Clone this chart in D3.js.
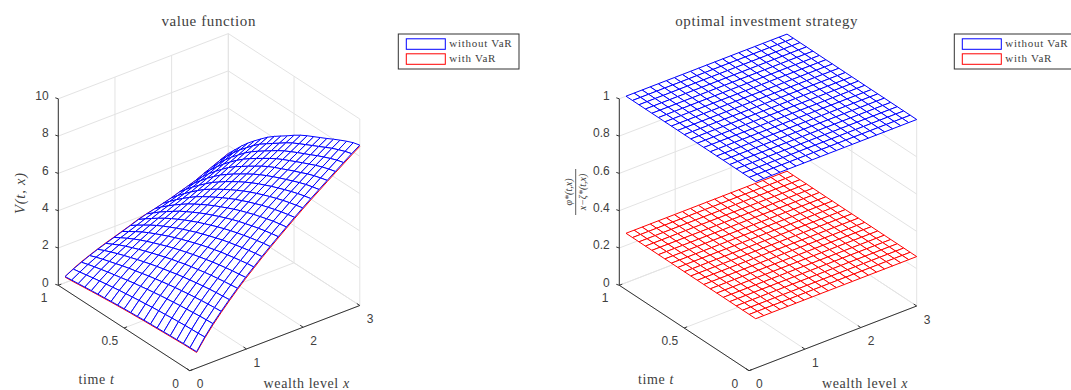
<!DOCTYPE html>
<html>
<head>
<meta charset="utf-8">
<script src="https://cdn.jsdelivr.net/npm/d3@7"></script>
<style>
  html, body { margin: 0; padding: 0; background: #fff; overflow: hidden; }
  svg { display: block; }
  .tick { font: 12px "Liberation Sans", Arial, sans-serif; fill: #404040; }
  .serif { font-family: "Liberation Serif", serif; fill: #404040; }
</style>
</head>
<body>
<svg id="chart" width="1071" height="390"></svg>
<script>
// grid of both meshes
const xGrid = [0.12, 0.264, 0.408, 0.552, 0.696, 0.84, 0.984, 1.128, 1.272, 1.416, 1.56, 1.704, 1.848, 1.992, 2.136, 2.28, 2.424, 2.568, 2.712, 2.856, 3];
const tGrid = [0, 0.05, 0.1, 0.15, 0.2, 0.25, 0.3, 0.35, 0.4, 0.45, 0.5, 0.55, 0.6, 0.65, 0.7, 0.75, 0.8, 0.85, 0.9, 0.95, 1];

// value function without VaR, one row per t in tGrid
const valueNoVar = [
  [.88, 1.50, 2.05, 2.54, 3.00, 3.44, 3.86, 4.25, 4.64, 5.01, 5.37, 5.72, 6.07, 6.41, 6.74, 7.06, 7.38, 7.69, 8.00, 8.31, 8.60],
  [.87, 1.47, 2.02, 2.51, 2.96, 3.39, 3.80, 4.20, 4.58, 4.95, 5.30, 5.65, 5.99, 6.32, 6.65, 6.97, 7.28, 7.59, 7.90, 8.20, 8.50],
  [.86, 1.45, 1.99, 2.47, 2.92, 3.34, 3.75, 4.13, 4.51, 4.87, 5.22, 5.57, 5.90, 6.23, 6.55, 6.87, 7.17, 7.47, 7.76, 8.06, 8.35],
  [.84, 1.43, 1.95, 2.43, 2.87, 3.28, 3.68, 4.06, 4.43, 4.79, 5.13, 5.47, 5.80, 6.12, 6.43, 6.74, 7.04, 7.33, 7.61, 7.91, 8.18],
  [.82, 1.40, 1.91, 2.38, 2.81, 3.22, 3.61, 3.98, 4.34, 4.69, 5.03, 5.36, 5.69, 6.00, 6.30, 6.60, 6.88, 7.17, 7.45, 7.73, 8.00],
  [.80, 1.37, 1.87, 2.33, 2.75, 3.15, 3.53, 3.90, 4.25, 4.59, 4.92, 5.25, 5.57, 5.87, 6.16, 6.45, 6.73, 7.01, 7.27, 7.55, 7.81],
  [.78, 1.33, 1.82, 2.27, 2.68, 3.07, 3.44, 3.80, 4.15, 4.48, 4.81, 5.12, 5.43, 5.73, 6.02, 6.30, 6.57, 6.84, 7.10, 7.37, 7.63],
  [.76, 1.30, 1.77, 2.21, 2.61, 2.99, 3.35, 3.70, 4.03, 4.36, 4.68, 4.99, 5.29, 5.58, 5.86, 6.14, 6.40, 6.67, 6.93, 7.19, 7.45],
  [.74, 1.26, 1.72, 2.14, 2.53, 2.90, 3.25, 3.59, 3.91, 4.23, 4.54, 4.84, 5.13, 5.42, 5.70, 5.97, 6.24, 6.50, 6.75, 7.01, 7.27],
  [.71, 1.21, 1.66, 2.07, 2.44, 2.80, 3.14, 3.47, 3.78, 4.09, 4.39, 4.68, 4.97, 5.25, 5.52, 5.79, 6.06, 6.31, 6.56, 6.82, 7.07],
  [.69, 1.17, 1.60, 1.99, 2.35, 2.70, 3.03, 3.34, 3.65, 3.94, 4.23, 4.51, 4.79, 5.06, 5.33, 5.59, 5.85, 6.10, 6.35, 6.60, 6.84],
  [.66, 1.12, 1.53, 1.91, 2.26, 2.59, 2.91, 3.21, 3.50, 3.79, 4.07, 4.34, 4.60, 4.86, 5.12, 5.37, 5.62, 5.87, 6.11, 6.35, 6.58],
  [.63, 1.07, 1.47, 1.82, 2.16, 2.47, 2.78, 3.07, 3.35, 3.62, 3.89, 4.15, 4.40, 4.65, 4.90, 5.14, 5.39, 5.64, 5.87, 6.11, 6.34],
  [.60, 1.02, 1.39, 1.73, 2.05, 2.35, 2.64, 2.92, 3.18, 3.45, 3.70, 3.95, 4.19, 4.43, 4.67, 4.91, 5.15, 5.40, 5.63, 5.86, 6.09],
  [.56, .96, 1.31, 1.64, 1.94, 2.22, 2.50, 2.76, 3.01, 3.26, 3.50, 3.74, 3.97, 4.20, 4.42, 4.66, 4.91, 5.14, 5.37, 5.61, 5.82],
  [.53, .90, 1.23, 1.54, 1.82, 2.09, 2.35, 2.59, 2.83, 3.07, 3.30, 3.52, 3.74, 3.96, 4.17, 4.40, 4.63, 4.85, 5.08, 5.30, 5.50],
  [.49, .84, 1.15, 1.43, 1.70, 1.95, 2.19, 2.42, 2.64, 2.86, 3.06, 3.27, 3.47, 3.67, 3.87, 4.09, 4.31, 4.53, 4.74, 4.96, 5.17],
  [.45, .77, 1.06, 1.32, 1.57, 1.80, 2.02, 2.23, 2.43, 2.63, 2.82, 3.01, 3.19, 3.37, 3.56, 3.77, 3.97, 4.19, 4.40, 4.62, 4.82],
  [.41, .70, .97, 1.21, 1.43, 1.64, 1.83, 2.02, 2.20, 2.39, 2.57, 2.73, 2.89, 3.05, 3.23, 3.41, 3.61, 3.82, 4.02, 4.23, 4.43],
  [.37, .63, .87, 1.09, 1.28, 1.45, 1.63, 1.80, 1.97, 2.14, 2.29, 2.44, 2.57, 2.72, 2.88, 3.04, 3.22, 3.42, 3.61, 3.81, 4.00],
  [.33, .56, .76, .95, 1.12, 1.27, 1.42, 1.57, 1.72, 1.88, 2.01, 2.12, 2.24, 2.36, 2.51, 2.65, 2.80, 3.00, 3.19, 3.38, 3.57],
];

// with VaR the mesh is hidden under the blue one, only its rim shows
const varRimT0 = [.84, 1.44, 1.98, 2.47, 2.93, 3.37, 3.79, 4.18, 4.57, 4.94, 5.30, 5.65, 6.00, 6.34, 6.67, 6.99, 7.31, 7.62, 7.93, 8.24, 8.53];
const varRimT1 = [.33, .58, .79, .97, 1.14, 1.30, 1.44, 1.59, 1.74, 1.90, 2.02, 2.12, 2.24, 2.36, 2.51, 2.65, 2.80, 3.00, 3.19, 3.38, 3.57];
const varRimX0 = [.84, .83, .82, .80, .78, .76, .74, .72, .70, .67, .65, .62, .59, .56, .52, .49, .45, .41, .37, .33, .30];

// optimal investment fraction, flat in t and x
const strategyNoVar = 1;
const strategyVar = 0.265;

const xTicks = [0, 1, 2, 3];
const tTicks = [0, 0.5, 1];
const valueTicks = [0, 2, 4, 6, 8, 10];
const strategyTicks = [0, 0.2, 0.4, 0.6, 0.8, 1];
const seriesNames = ["without VaR", "with VaR"];

const BLUE = "#0000ff", RED = "#ff0000", GRID = "#e3e3e3", AXIS = "#333";
const svg = d3.select("#chart");

function drawPanel({ front, left, right, zDomain, zTicks }) {
  const g = svg.append("g");
  // oblique projection: screen offset = x part + t part + z part
  const xPx = d3.scaleLinear([0, 3], [0, right[0] - front[0]]);
  const xPy = d3.scaleLinear([0, 3], [0, right[1] - front[1]]);
  const tPx = d3.scaleLinear([0, 1], [0, left[0] - front[0]]);
  const tPy = d3.scaleLinear([0, 1], [0, left[1] - front[1]]);
  const zPy = d3.scaleLinear(zDomain, [0, -186.5]);
  const p = (x, t, z) => [front[0] + xPx(x) + tPx(t), front[1] + xPy(x) + tPy(t) + zPy(z)];
  const zTop = zDomain[1];

  const line = (a, b, color, w = 1) =>
    g.append("line")
      .attr("x1", a[0]).attr("y1", a[1])
      .attr("x2", b[0]).attr("y2", b[1])
      .attr("stroke", color).attr("stroke-width", w);

  // grid on the floor and the two back walls
  xTicks.forEach((x) => {
    line(p(x, 0, 0), p(x, 1, 0), GRID);
    line(p(x, 1, 0), p(x, 1, zTop), GRID);
  });
  tTicks.forEach((t) => {
    line(p(0, t, 0), p(3, t, 0), GRID);
    line(p(3, t, 0), p(3, t, zTop), GRID);
  });
  zTicks.forEach((z) => {
    line(p(0, 1, z), p(3, 1, z), GRID);
    line(p(3, 1, z), p(3, 0, z), GRID);
  });

  // axis lines, ticks, tick labels
  line(p(0, 1, 0), p(0, 1, zTop), AXIS);
  line(p(0, 1, 0), p(0, 0, 0), AXIS);
  line(p(0, 0, 0), p(3, 0, 0), AXIS);

  zTicks.forEach((z) => {
    const a = p(0, 1, z);
    line(a, [a[0] - 3, a[1] - 1], AXIS);
    g.append("text").attr("class", "tick")
      .attr("x", a[0] - 9.6).attr("y", a[1] - 3).attr("dy", "0.35em")
      .attr("text-anchor", "end").text(z);
  });
  tTicks.forEach((t) => {
    const a = p(0, t, 0);
    line(a, [a[0] + 3, a[1] - 1.2], AXIS);
    g.append("text").attr("class", "tick")
      .attr("x", a[0] - 14.2).attr("y", a[1] + 12.8).attr("dy", "0.35em")
      .attr("text-anchor", "middle").text(t);
  });
  xTicks.forEach((x) => {
    const a = p(x, 0, 0);
    line(a, [a[0] - 3, a[1] - 2], AXIS);
    g.append("text").attr("class", "tick")
      .attr("x", a[0] + 10.4).attr("y", a[1] + 13.5).attr("dy", "0.35em")
      .attr("text-anchor", "middle").text(x);
  });

  // mesh: white quads painted back to front, so nearer ones hide what is behind
  const mesh = (zAt, color) => {
    const quads = [];
    for (let j = tGrid.length - 2; j >= 0; j--) {
      for (let i = xGrid.length - 2; i >= 0; i--) {
        quads.push([
          p(xGrid[i], tGrid[j], zAt(j, i)),
          p(xGrid[i + 1], tGrid[j], zAt(j, i + 1)),
          p(xGrid[i + 1], tGrid[j + 1], zAt(j + 1, i + 1)),
          p(xGrid[i], tGrid[j + 1], zAt(j + 1, i)),
        ]);
      }
    }
    g.append("g")
      .selectAll("path")
      .data(quads)
      .join("path")
      .attr("d", (d) => "M" + d.join("L") + "Z")
      .attr("fill", "#fff")
      .attr("stroke", color)
      .attr("stroke-width", 1)
      .attr("stroke-linejoin", "round");
  };

  return { g, p, mesh };
}

function addLegend(left) {
  const lg = svg.append("g").attr("transform", `translate(${left},34)`);
  lg.append("rect").attr("x", 0).attr("y", 0).attr("width", 120.7).attr("height", 35)
    .attr("fill", "#fff").attr("stroke", "#333");
  seriesNames.forEach((name, i) => {
    lg.append("rect").attr("x", 8).attr("y", 4.8 + i * 15).attr("width", 39).attr("height", 10.5)
      .attr("fill", "#fff").attr("stroke", i ? RED : BLUE);
    lg.append("text").attr("class", "serif").attr("x", 51).attr("y", 9.5 + i * 15).attr("dy", "0.35em")
      .style("font-size", "11px").style("letter-spacing", "0.72px").text(name);
  });
}

function addLabel(x, y, before, italic, size = 14) {
  const t = svg.append("text").attr("class", "serif").attr("x", x).attr("y", y)
    .attr("dy", "0.35em").attr("text-anchor", "middle")
    .style("font-size", size + "px").style("letter-spacing", "0.6px");
  t.append("tspan").text(before);
  t.append("tspan").style("font-style", "italic").text(italic);
  return t;
}

// left panel
const panelA = drawPanel({ front: [189.8, 370.7], left: [58.3, 285.3], right: [359.8, 305.5], zDomain: [0, 10], zTicks: valueTicks });
const rim = (row) => row.map((d) => d.join(",")).join("L");
const rimPath = "M" + rim(xGrid.map((x, i) => panelA.p(x, 1, varRimT1[i])))
  + "M" + rim(tGrid.map((t, j) => panelA.p(xGrid[0], t, varRimX0[j])))
  + "M" + rim(xGrid.map((x, i) => panelA.p(x, 0, varRimT0[i])));
panelA.g.append("path").attr("d", rimPath).attr("fill", "none").attr("stroke", RED).attr("stroke-width", 1);
panelA.mesh((j, i) => valueNoVar[j][i], BLUE);

// right panel
const panelB = drawPanel({ front: [749, 370.7], left: [619.3, 285.3], right: [916.7, 306], zDomain: [0, 1], zTicks: strategyTicks });
panelB.mesh(() => strategyVar, RED);
panelB.mesh(() => strategyNoVar, BLUE);

addLegend(398.3);
addLegend(954.3);

// titles and axis labels
addLabel(208.7, 21, "value function", "", 15);
addLabel(766.7, 21, "optimal investment strategy", "", 15);
addLabel(96.5, 379, "time ", "t");
addLabel(306.7, 383, "wealth level ", "x");
addLabel(656, 379, "time ", "t");
addLabel(865, 383, "wealth level ", "x");

svg.append("text").attr("class", "serif")
  .attr("transform", "translate(20,193) rotate(-90)")
  .attr("dy", "0.35em").attr("text-anchor", "middle")
  .style("font-size", "14.5px").style("font-style", "italic").style("letter-spacing", "0.8px")
  .text("V(t, x)");

// fraction on the strategy axis, rotated with the axis
const frac = svg.append("g").attr("transform", "translate(575.7,192) rotate(-90)");
frac.append("line").attr("x1", -23).attr("x2", 23).attr("stroke", "#333").attr("stroke-width", 0.8);
frac.append("text").attr("class", "serif").attr("y", -3.5).attr("text-anchor", "middle")
  .style("font-size", "10px").style("font-style", "italic").text("φ*(t,x)");
frac.append("text").attr("class", "serif").attr("y", 10).attr("text-anchor", "middle")
  .style("font-size", "10px").style("font-style", "italic").text("x−ζ*(t,x)");
</script>
</body>
</html>
